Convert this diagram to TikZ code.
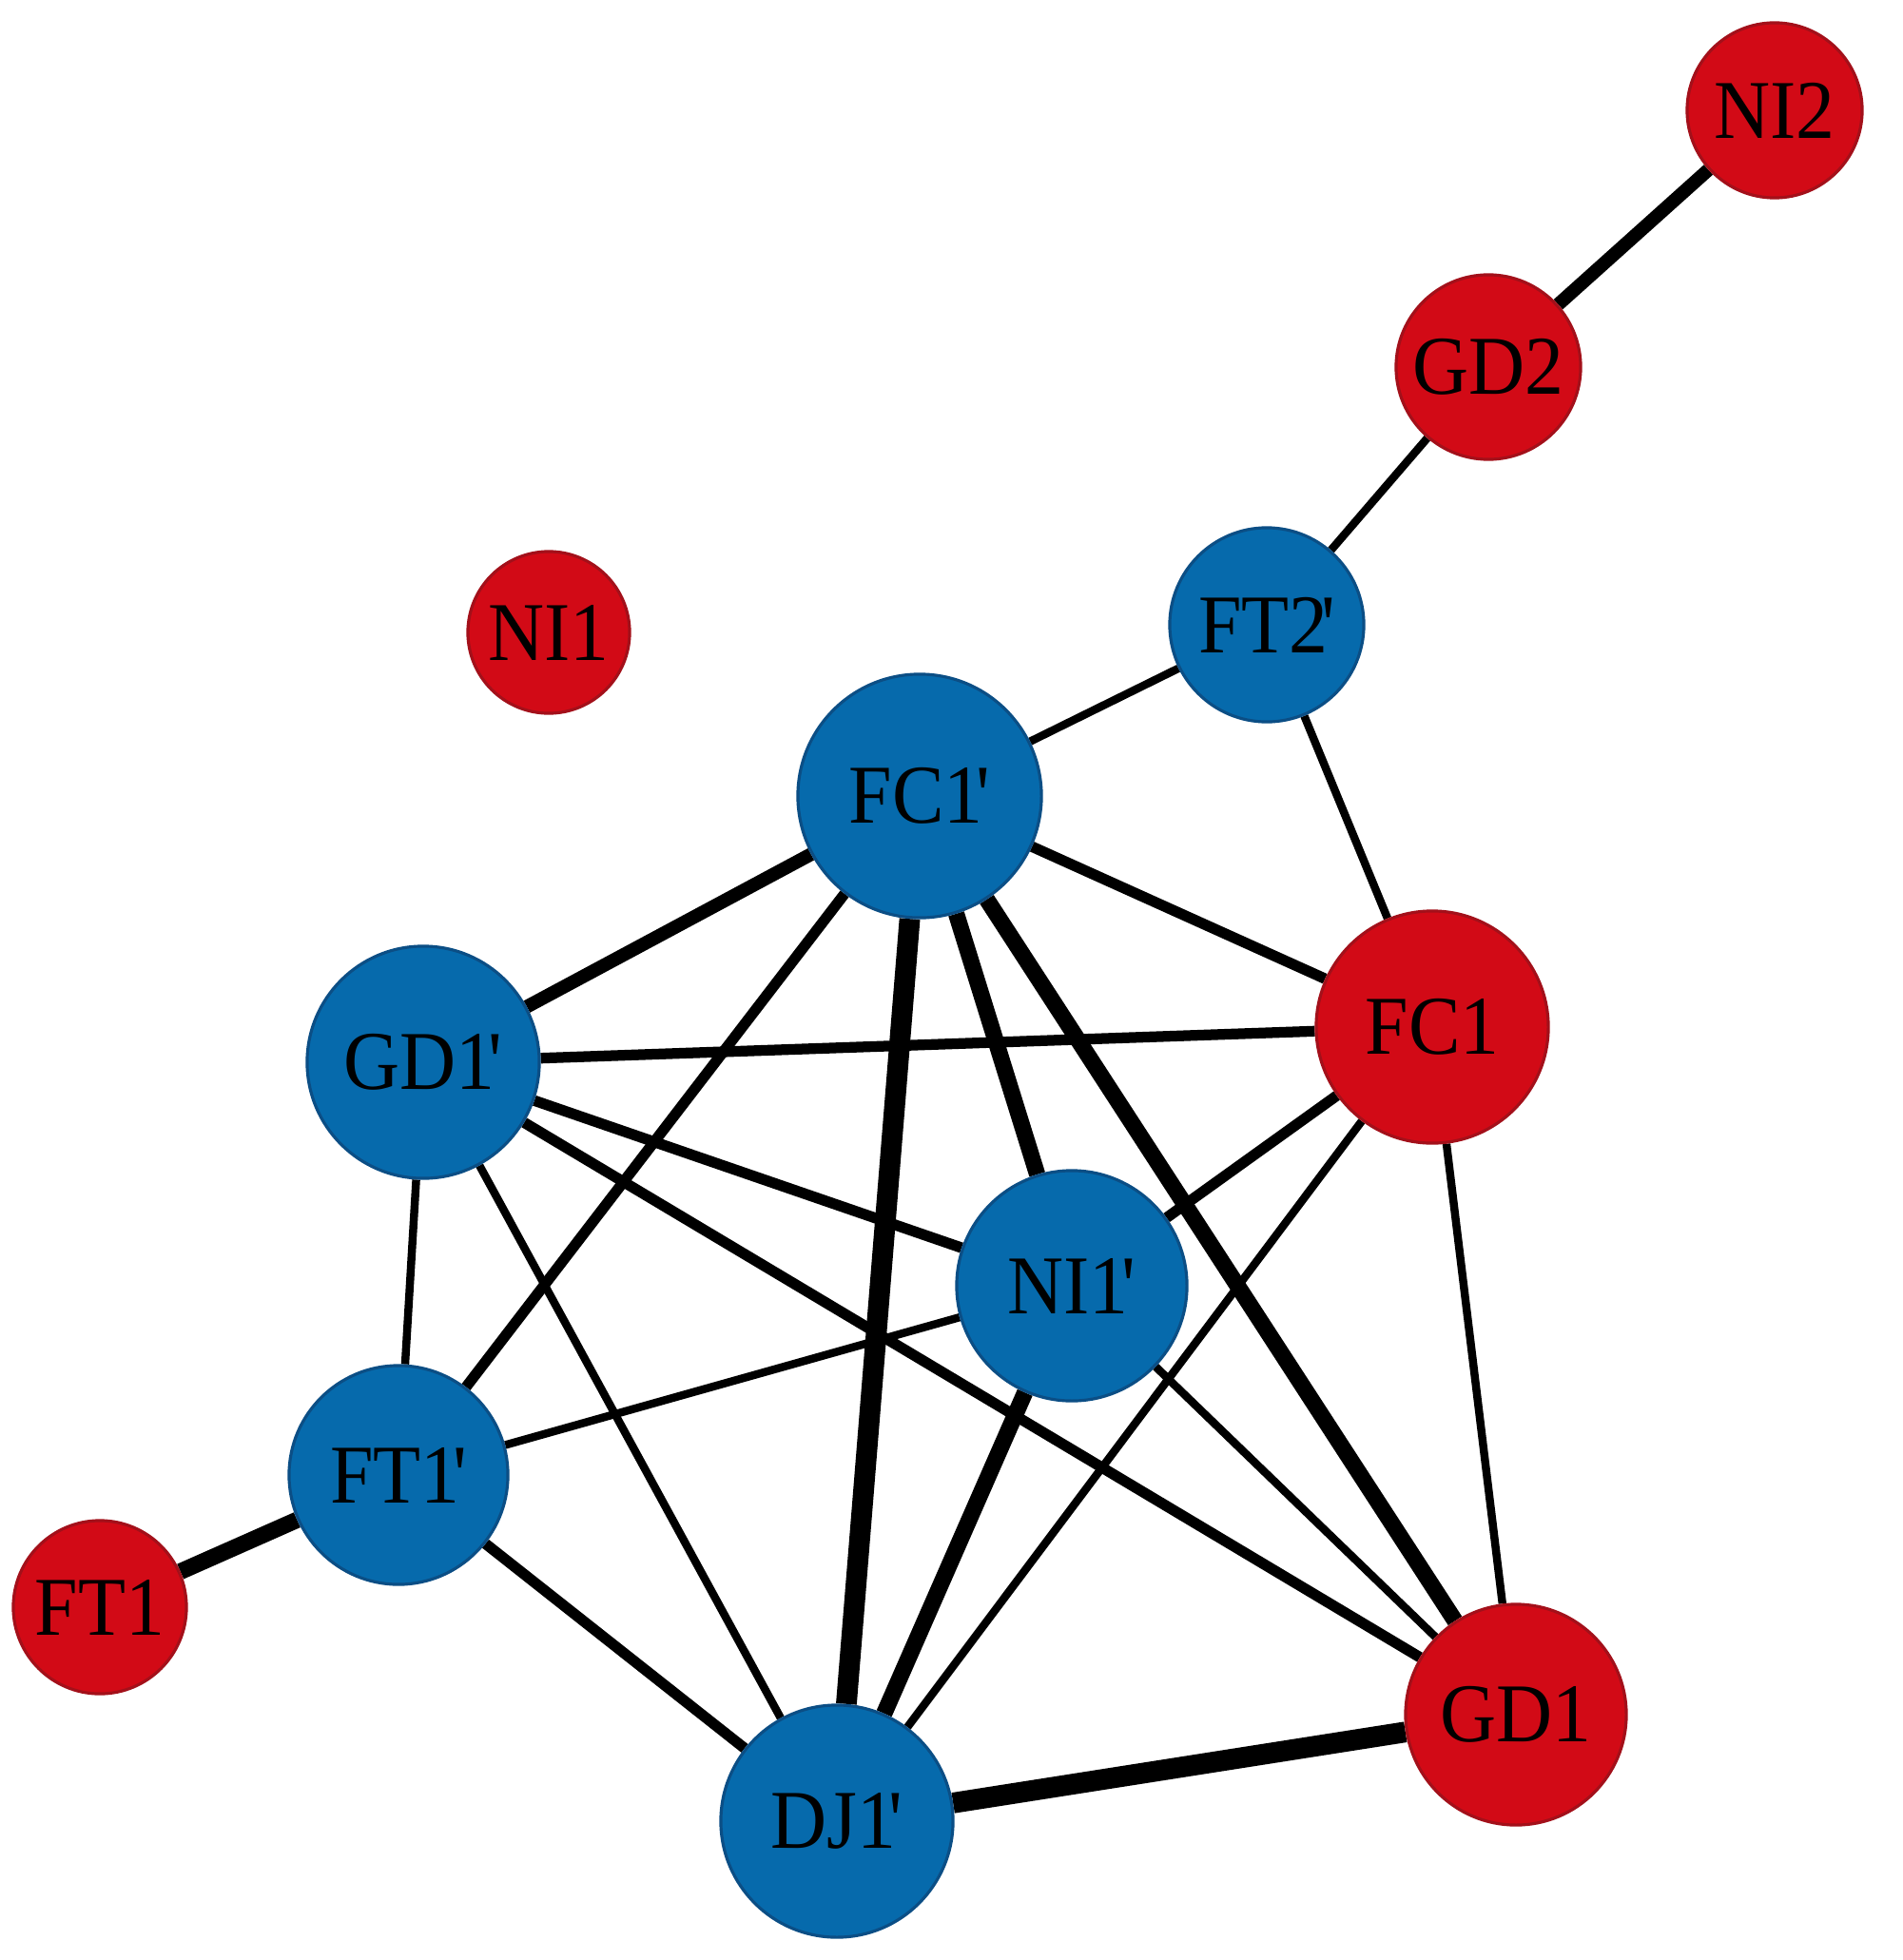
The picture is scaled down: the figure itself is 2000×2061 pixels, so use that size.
\documentclass[tikz,border=0pt]{standalone}
\usepackage{fontspec}
\setmainfont{Liberation Serif}[Ligatures=TeXOff,FakeStretch=0.93]
\usetikzlibrary{backgrounds}
\definecolor{nblue}{HTML}{066AAC}
\definecolor{nbluebd}{HTML}{0B4E85}
\definecolor{nred}{HTML}{D20A16}
\definecolor{nredbd}{HTML}{A3101A}
\newcommand{\pr}{\kern-0.08em'}
\begin{document}
\begin{tikzpicture}[x=0.01cm,y=-0.01cm,
  vtx/.style={circle,inner sep=0pt,line width=0.9pt,font=\fontsize{25}{30}\selectfont,text=black},
  bluev/.style={vtx,fill=nblue,draw=nbluebd},
  redv/.style={vtx,fill=nred,draw=nredbd},
  wa/.style={line width=2.4pt,draw=black},
  wb/.style={line width=3.2pt,draw=black},
  wc/.style={line width=4.0pt,draw=black},
  wd/.style={line width=4.9pt,draw=black},
  we/.style={line width=6.2pt,draw=black}]
\useasboundingbox (0,0) rectangle (2000,2061);
\node[redv,minimum size=1.84cm] (NI2) at (1866,116) {NI2};
\node[redv,minimum size=1.94cm] (GD2) at (1565,386) {GD2};
\node[bluev,minimum size=2.04cm] (FT2p) at (1332,657) {FT2\pr};
\node[redv,minimum size=1.70cm] (NI1) at (577,665) {NI1};
\node[bluev,minimum size=2.56cm] (FC1p) at (967,837) {FC1\pr};
\node[redv,minimum size=2.44cm] (FC1) at (1506,1080) {FC1};
\node[bluev,minimum size=2.44cm] (GD1p) at (445,1117) {GD1\pr};
\node[bluev,minimum size=2.42cm] (NI1p) at (1127,1352) {NI1\pr};
\node[bluev,minimum size=2.30cm] (FT1p) at (419,1551) {FT1\pr};
\node[redv,minimum size=1.82cm] (FT1) at (105,1690) {FT1};
\node[redv,minimum size=2.32cm] (GD1) at (1594,1803) {GD1};
\node[bluev,minimum size=2.44cm] (DJ1p) at (880,1915) {DJ1\pr};
\begin{pgfonlayer}{background}
\fill[white] (0,0) rectangle (2000,2061);
\draw[wc] (NI2) -- (GD2);
\draw[wa] (GD2) -- (FT2p);
\draw[wa] (FT2p) -- (FC1p);
\draw[wa] (FT2p) -- (FC1);
\draw[wc] (FC1p) -- (GD1p);
\draw[wb] (FC1p) -- (FC1);
\draw[wb] (FC1p) -- (FT1p);
\draw[we] (FC1p) -- (DJ1p);
\draw[wd] (FC1p) -- (NI1p);
\draw[wd] (FC1p) -- (GD1);
\draw[wb] (GD1p) -- (FC1);
\draw[wb] (GD1p) -- (NI1p);
\draw[wb] (GD1p) -- (GD1);
\draw[wa] (GD1p) -- (FT1p);
\draw[wa] (GD1p) -- (DJ1p);
\draw[wb] (FC1) -- (NI1p);
\draw[wa] (FC1) -- (DJ1p);
\draw[wa] (FC1) -- (GD1);
\draw[wa] (NI1p) -- (FT1p);
\draw[wd] (NI1p) -- (DJ1p);
\draw[wa] (NI1p) -- (GD1);
\draw[wd] (FT1p) -- (FT1);
\draw[wb] (FT1p) -- (DJ1p);
\draw[we] (DJ1p) -- (GD1);
\end{pgfonlayer}
\end{tikzpicture}
\end{document}
